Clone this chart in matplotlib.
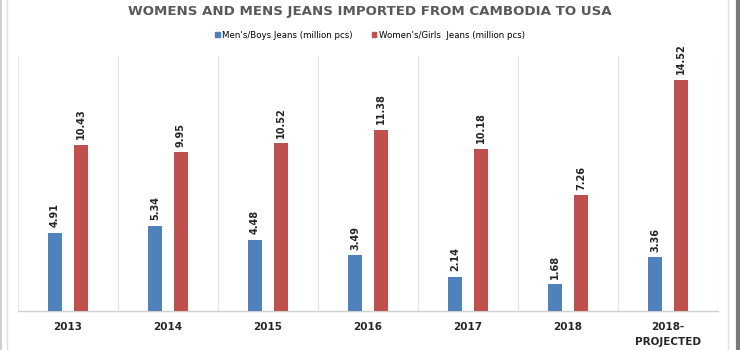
import matplotlib
matplotlib.use("Agg")
import matplotlib.pyplot as plt
import numpy as np
from matplotlib.patches import Rectangle
from matplotlib.lines import Line2D

categories = ["2013", "2014", "2015", "2016", "2017", "2018", "2018-\nPROJECTED"]
mens = [4.91, 5.34, 4.48, 3.49, 2.14, 1.68, 3.36]
womens = [10.43, 9.95, 10.52, 11.38, 10.18, 7.26, 14.52]
mens_label = "Men's/Boys Jeans (million pcs)"
womens_label = "Women's/Girls  Jeans (million pcs)"
title = "WOMENS AND MENS JEANS IMPORTED FROM CAMBODIA TO USA"

blue = "#4F81BD"
red = "#C0504D"

fig = plt.figure(figsize=(7.4, 3.5), dpi=100)
W, H = 740, 350
ax = fig.add_axes([18 / W, 1 - 311 / H, 700 / W, 255 / H])

x = np.arange(len(categories))
bw = 0.14
off = 0.13
b1 = ax.bar(x - off, mens, bw, color=blue, label=mens_label, zorder=3)
b2 = ax.bar(x + off, womens, bw, color=red, label=womens_label, zorder=3)

for rects, vals in ((b1, mens), (b2, womens)):
    for r, v in zip(rects, vals):
        ax.annotate(f"{v:.2f}", (r.get_x() + r.get_width() / 2, r.get_height()),
                    xytext=(0, 4), textcoords="offset points", rotation=90,
                    ha="center", va="bottom", fontsize=7, fontweight="bold",
                    color="#262626")

ax.set_xlim(-0.5, len(categories) - 0.5)
ax.set_ylim(0, 16)
ax.set_yticks([])
ax.set_xticks(x)
ax.set_xticklabels(categories, fontsize=7.5, fontweight="bold", color="#262626",
                   linespacing=1.6)
ax.tick_params(axis="x", length=0, pad=8)
for b in np.arange(-0.5, len(categories), 1.0):
    ax.axvline(b, color="#E3E3E3", lw=0.9, zorder=1)
for s in ("top", "left", "right"):
    ax.spines[s].set_visible(False)
ax.spines["bottom"].set_color("#D0D0D0")
ax.spines["bottom"].set_linewidth(1.0)

fig.text(0.5, 1 - 12 / H, title, ha="center", va="center", fontsize=9.6,
         fontweight="bold", color="#595959")

handles = [Rectangle((0, 0), 1, 1, color=blue), Rectangle((0, 0), 1, 1, color=red)]
fig.legend(handles, [mens_label, womens_label], loc="center",
           bbox_to_anchor=(0.5, 1 - 35 / H), ncol=2, frameon=False,
           fontsize=6.2, handlelength=0.5, handleheight=0.5,
           handletextpad=0.3, columnspacing=2.2)

# outer frame
fig.add_artist(Line2D([7 / W, 7 / W], [0, 1], color="#E0E0E0", lw=1))
fig.add_artist(Line2D([728 / W, 728 / W], [0, 1], color="#E0E0E0", lw=1))
fig.add_artist(Line2D([0.5 / W, 0.5 / W], [0, 1], color="#C8C8C8", lw=1.2))
fig.add_artist(Line2D([738 / W, 738 / W], [0, 1], color="#7A7A7A", lw=3))

fig.savefig("out.png", dpi=100)
